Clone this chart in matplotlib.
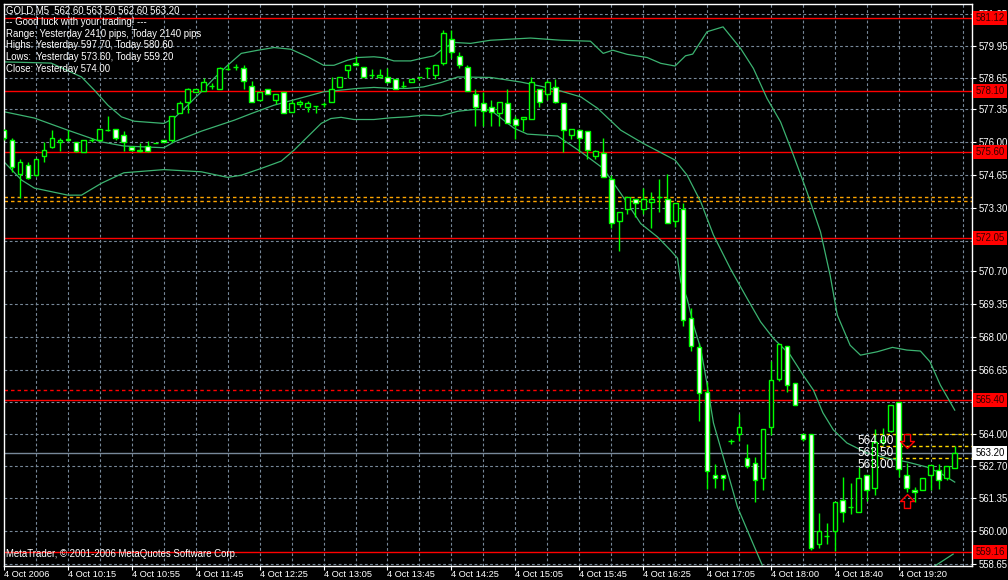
import numpy as np
import matplotlib
matplotlib.use("Agg")
import matplotlib.pyplot as plt
import matplotlib.transforms as mtransforms
from matplotlib.patches import Rectangle
from matplotlib.path import Path

plt.rcParams['font.family'] = ['Liberation Sans', 'DejaVu Sans']

# GOLD M5 candles, bar index 0..119 (left to right)
opens = [576.49, 576.08, 574.67, 575.08, 574.64, 575.44, 575.78, 575.99, 576.14, 575.99,
         575.60, 576.10, 576.07, 576.48, 576.56, 576.29, 575.78, 575.62, 575.85, 575.97,
         576.08, 576.07, 577.18, 577.66, 578.07, 578.10, 578.30, 578.17, 579.00, 579.08,
         579.03, 578.29, 577.73, 578.17, 577.74, 578.07, 577.25, 577.58, 577.45, 577.47,
         577.58, 577.66, 578.27, 578.97, 579.27, 579.07, 578.78, 578.66, 578.66, 578.58,
         578.30, 578.48, 578.66, 579.03, 578.78, 579.27, 580.26, 579.55, 579.07, 577.96,
         577.59, 577.45, 577.18, 577.59, 576.97, 576.97, 576.97, 578.17, 577.97, 578.27,
         577.59, 576.29, 576.49, 576.46, 575.45, 575.56, 574.47, 572.77, 573.27, 573.67,
         573.27, 573.55, 573.75, 573.68, 572.77, 573.27, 568.75, 567.56, 565.74, 562.33,
         562.33, 563.70, 564.00, 563.02, 562.81, 562.17, 564.27, 566.28, 567.62, 566.10,
         564.00, 564.00, 559.49, 559.81, 560.02, 561.27, 561.00, 560.80, 562.33, 561.78,
         563.65, 564.13, 565.32, 562.33, 561.71, 561.68, 562.30, 562.51, 562.17, 562.60]
highs = [576.55, 576.15, 575.30, 575.19, 575.32, 575.99, 576.48, 576.18, 576.48, 576.00,
         576.07, 576.15, 576.56, 577.08, 576.56, 576.45, 575.85, 575.97, 576.05, 575.98,
         576.08, 577.06, 577.69, 578.21, 578.17, 578.62, 578.45, 579.10, 579.22, 579.20,
         579.16, 578.51, 578.07, 578.17, 577.96, 578.07, 577.73, 577.73, 577.69, 577.48,
         577.64, 578.68, 578.66, 579.19, 579.55, 579.07, 579.00, 579.00, 579.03, 578.58,
         578.51, 578.59, 578.67, 579.10, 579.19, 580.60, 580.60, 579.69, 579.19, 578.17,
         578.07, 577.73, 577.66, 578.17, 577.07, 577.04, 578.66, 578.17, 578.55, 578.58,
         577.59, 576.56, 576.56, 576.46, 575.66, 576.15, 574.64, 573.14, 573.75, 573.67,
         574.10, 573.96, 574.47, 574.68, 573.48, 573.48, 569.16, 567.75, 566.15, 562.78,
         562.33, 563.81, 564.80, 563.60, 563.06, 564.22, 567.00, 567.71, 567.62, 566.10,
         564.00, 564.00, 560.73, 560.32, 561.21, 562.24, 562.00, 562.65, 562.33, 564.22,
         564.25, 565.18, 565.32, 562.82, 561.80, 562.19, 562.71, 562.75, 562.69, 563.50]
lows = [576.10, 574.78, 573.69, 574.48, 574.62, 575.17, 575.76, 575.63, 576.06, 575.60,
        575.60, 576.00, 576.05, 576.44, 576.07, 575.63, 575.63, 575.58, 575.60, 575.96,
        575.99, 576.01, 577.18, 577.18, 578.07, 578.10, 578.18, 578.17, 578.95, 578.95,
        578.17, 577.66, 577.69, 577.96, 577.55, 577.18, 577.22, 577.45, 577.25, 577.18,
        577.45, 577.66, 578.27, 578.62, 579.19, 578.66, 578.62, 578.62, 578.45, 578.17,
        578.21, 578.48, 578.55, 578.62, 578.58, 579.16, 579.44, 579.05, 578.10, 576.67,
        576.67, 576.66, 576.66, 576.77, 576.14, 576.46, 576.97, 577.45, 577.73, 577.59,
        575.60, 576.14, 575.60, 575.29, 575.29, 574.55, 572.45, 571.53, 573.06, 572.93,
        573.06, 572.45, 573.14, 572.66, 572.52, 568.44, 567.42, 564.55, 561.75, 561.78,
        561.68, 563.60, 563.70, 562.58, 561.21, 561.68, 563.97, 566.18, 565.73, 565.21,
        563.70, 559.22, 559.29, 559.49, 559.18, 560.39, 560.69, 560.80, 561.23, 561.48,
        563.55, 564.10, 562.24, 561.62, 561.21, 561.68, 561.68, 561.75, 562.10, 562.60]
closes = [576.15, 574.99, 575.17, 574.53, 575.30, 575.66, 576.15, 576.08, 576.07, 575.63,
          576.07, 576.10, 576.56, 576.48, 576.15, 575.99, 575.66, 575.67, 575.63, 575.97,
          576.00, 577.06, 577.59, 578.17, 578.17, 578.48, 578.30, 579.05, 579.00, 579.08,
          578.51, 577.66, 578.07, 577.96, 577.96, 577.18, 577.59, 577.67, 577.59, 577.47,
          577.58, 578.17, 578.66, 579.19, 579.19, 578.66, 578.78, 578.78, 578.48, 578.17,
          578.30, 578.59, 578.66, 579.03, 579.19, 580.47, 579.69, 579.19, 578.10, 577.45,
          577.27, 577.25, 577.66, 576.77, 576.69, 577.04, 578.48, 577.66, 578.48, 577.66,
          576.49, 576.56, 576.15, 575.67, 575.64, 574.55, 572.66, 573.14, 573.75, 573.48,
          573.68, 573.68, 573.75, 572.66, 573.48, 568.68, 567.63, 565.67, 562.48, 562.19,
          562.19, 563.70, 564.29, 562.69, 562.10, 564.22, 566.23, 567.71, 566.00, 565.21,
          563.81, 559.29, 560.02, 559.81, 561.21, 560.80, 561.00, 562.19, 561.68, 563.67,
          563.75, 565.18, 562.54, 561.78, 561.62, 562.19, 562.71, 562.10, 562.69, 563.20]

# Bollinger bands (bar position, price)
upper_x = [0, 5.9, 9.7, 11.3, 13.0, 14.7, 16.3, 20.0, 21.3, 23.0, 24.7, 26.3, 28.0, 29.7,
           31.8, 33.8, 35.9, 38.0, 40.0, 41.3, 43.0, 44.3, 46.3, 47.5, 48.8, 50.9, 52.2,
           53.8, 54.7, 56.3, 58.4, 60.9, 65.9, 69.7, 73.4, 75.0, 76.2, 78.0, 80.5, 82.2,
           84.0, 85.3, 86.2, 88.0, 90.0, 92.2, 93.8, 95.5, 97.2, 98.8, 100.5, 102.2, 103.4,
           104.3, 105.9, 107.2, 109.3, 111.2, 113.0, 114.7, 115.9, 117.2, 119.0]
upper_y = [579.30, 579.25, 578.68, 578.14, 577.52, 577.04, 576.86, 576.77, 576.99, 577.52,
           578.07, 578.63, 579.16, 579.65, 579.78, 579.89, 579.82, 579.51, 579.16, 579.16,
           579.37, 579.48, 579.51, 579.47, 579.34, 579.34, 579.44, 579.55, 579.78, 580.10,
           580.06, 580.19, 580.28, 580.19, 580.15, 579.65, 579.78, 579.61, 579.48, 579.24,
           579.13, 579.55, 579.62, 580.54, 580.74, 579.85, 579.03, 577.80, 576.83, 575.47,
           573.96, 572.31, 570.53, 568.89, 567.65, 567.24, 567.38, 567.56, 567.45, 567.41,
           566.97, 566.01, 564.98]
middle_x = [0, 3.8, 8.0, 12.2, 15.0, 20.0, 21.3, 24.7, 28.8, 31.0, 33.8, 38.0, 40.0, 42.2,
            44.3, 46.3, 48.4, 50.5, 52.5, 54.7, 56.8, 60.9, 64.7, 67.2, 69.7, 72.2, 74.3,
            77.2, 80.0, 84.0, 85.5, 87.2, 88.8, 90.9, 93.0, 94.7, 96.3, 98.4, 100.0, 101.3,
            102.5, 103.8, 105.5, 108.0, 110.5, 113.0, 115.5, 117.2, 119.0]
middle_y = [577.25, 576.99, 576.49, 576.01, 575.84, 575.77, 576.01, 576.45, 576.90, 577.18,
            577.52, 577.89, 578.07, 578.14, 578.21, 578.25, 578.21, 578.21, 578.27, 578.45,
            578.68, 578.66, 578.47, 578.30, 578.10, 577.86, 577.39, 576.49, 575.95, 575.26,
            574.64, 573.55, 572.18, 570.81, 569.58, 568.61, 567.93, 567.25, 566.43, 565.81,
            564.87, 564.17, 563.63, 563.22, 563.01, 562.85, 562.64, 562.39, 562.02]
lower_x = [0, 2.2, 3.8, 8.0, 9.7, 12.2, 15.0, 20.0, 24.7, 28.0, 29.7, 32.2, 34.7, 36.3,
           38.0, 39.7, 40.9, 42.2, 43.8, 46.3, 48.4, 50.5, 52.5, 54.7, 56.8, 58.8, 60.9,
           63.8, 65.5, 69.3, 72.2, 75.0, 77.2, 79.7, 81.8, 83.4, 84.3, 84.7, 85.5, 86.3,
           87.2, 88.0, 88.8, 90.5, 91.8, 93.4, 94.9, 105.0, 116.5, 118.8]
lower_y = [575.19, 574.44, 574.11, 573.82, 573.82, 574.31, 574.74, 574.87, 574.78, 574.55,
           574.64, 574.92, 575.22, 575.67, 576.22, 576.77, 576.97, 577.02, 576.93, 576.93,
           577.00, 577.04, 577.11, 577.08, 577.27, 577.34, 577.32, 576.58, 576.33, 576.25,
           575.60, 574.92, 573.89, 572.65, 572.10, 571.56, 571.23, 570.26, 569.57, 568.48,
           567.52, 566.05, 564.45, 562.51, 561.00, 559.76, 558.61, None, 558.57, 559.06]

red_levels = [581.12, 578.10, 575.60, 572.05, 565.40, 559.16]
red_dashed_level = 565.80
orange_levels = [573.75, 573.58]
yellow_levels = [564.00, 563.50, 563.00]
yellow_labels = ['564.00', '563.50', '563.00']
bid_price = 563.20
arrow_bar = 113
arrow_down_price = 563.71
arrow_up_price = 561.24

y_ticks = [558.65, 560.00, 561.35, 562.70, 564.00, 565.30, 566.65, 568.00, 569.35,
           570.70, 571.95, 573.30, 574.65, 576.00, 577.35, 578.65, 579.95, 581.25]
# these two tick labels sit under the red level boxes in the original
hidden_ticks = [565.30, 571.95]
x_tick_bars = [0, 8, 16, 24, 32, 40, 48, 56, 64, 72, 80, 88, 96, 104, 112]
x_tick_labels = ['4 Oct 2006', '4 Oct 10:15', '4 Oct 10:55', '4 Oct 11:45', '4 Oct 12:25',
                 '4 Oct 13:05', '4 Oct 13:45', '4 Oct 14:25', '4 Oct 15:05', '4 Oct 15:45',
                 '4 Oct 16:25', '4 Oct 17:05', '4 Oct 18:00', '4 Oct 18:40', '4 Oct 19:20']

info_lines = ['GOLD,M5  562.60 563.50 562.60 563.20',
              '-- Good luck with your trading! ---',
              'Range: Yesterday 2410 pips, Today 2140 pips',
              'Highs: Yesterday 597.70, Today 580.60',
              'Lows:  Yesterday 573.60, Today 559.20',
              'Close: Yesterday 574.00']

FS = 6.9
LIME = '#00FF00'
GRID = '#778899'
BAND = '#3CB371'
DASH = (0, (2.5, 2.2))

# block arrow marker (pointing down), flipped for the up arrow
down_arrow = Path([(-0.22, 0.5), (0.22, 0.5), (0.22, 0.0), (0.5, 0.0), (0.0, -0.5),
                   (-0.5, 0.0), (-0.22, 0.0), (-0.22, 0.5)], closed=True)
up_arrow = Path([(x, -y) for x, y in down_arrow.vertices], closed=True)

fig = plt.figure(figsize=(10.08, 5.80), dpi=100, facecolor='black')
ax = fig.add_axes([4 / 1008, 14 / 580, 968 / 1008, 562 / 580])
ax.set_facecolor('black')
ax.set_xlim(0.16, 121.16)
ax.set_ylim(558.57, 581.68)

# grid
for k in range(4, 121, 4):
    ax.axvline(k, color=GRID, lw=0.8, ls=DASH, zorder=0)
for v in y_ticks:
    ax.axhline(v, color=GRID, lw=0.8, ls=DASH, zorder=0)

# level lines
for v in red_levels:
    ax.axhline(v, color='red', lw=1, zorder=1)
ax.axhline(red_dashed_level, color='red', lw=1, ls=DASH, zorder=1)
for v in orange_levels:
    ax.axhline(v, color='orange', lw=1, ls=DASH, zorder=1)
ax.hlines(yellow_levels, 108.8, 121.16, color='gold', lw=1, ls=DASH, zorder=1)
ax.axhline(bid_price, color=GRID, lw=1, zorder=1)

# bands
ax.plot(upper_x, upper_y, color=BAND, lw=0.9, zorder=2)
ax.plot(middle_x, middle_y, color=BAND, lw=0.9, zorder=2)
ax.plot(lower_x, [np.nan if v is None else v for v in lower_y], color=BAND, lw=0.9, zorder=2)

# candles
for i, (o, h, l, c) in enumerate(zip(opens, highs, lows, closes)):
    ax.vlines(i, l, h, color=LIME, lw=1, zorder=3)
    if abs(c - o) < 0.03:
        ax.hlines(o, i - 0.32, i + 0.32, color=LIME, lw=1, zorder=4)
    else:
        face = 'white' if c < o else 'black'
        ax.add_patch(Rectangle((i - 0.3, min(o, c)), 0.6, abs(c - o),
                               facecolor=face, edgecolor=LIME, lw=1, zorder=4))

# price labels of the yellow lines
for v, s in zip(yellow_levels, yellow_labels):
    ax.text(111.4, v - 0.04, s, color='white', fontsize=FS + 1.6, ha='right', va='top', zorder=5)

ax.plot([arrow_bar], [arrow_down_price], marker=down_arrow, markersize=10, mfc='none',
        mec='red', mew=1, zorder=6)
ax.plot([arrow_bar], [arrow_up_price], marker=up_arrow, markersize=10, mfc='none',
        mec='red', mew=1, zorder=6)

# axes
for sp in ax.spines.values():
    sp.set_color('white')
    sp.set_linewidth(1)
ax.yaxis.tick_right()
ax.set_yticks(y_ticks)
ax.set_yticklabels(['' if v in hidden_ticks else '%.2f' % v for v in y_ticks])
ax.set_xticks(x_tick_bars)
ax.set_xticklabels(x_tick_labels)
ax.tick_params(axis='y', colors='white', labelsize=FS, length=3, pad=2)
ax.tick_params(axis='x', colors='white', labelsize=FS - 0.2, length=3, pad=0)
for lab in ax.get_xticklabels():
    lab.set_ha('left')

trans = mtransforms.blended_transform_factory(ax.transAxes, ax.transData)
for v in red_levels:
    ax.text(1.0035, v, '%.2f' % v, transform=trans, color='#300000', fontsize=FS,
            ha='left', va='center', zorder=10, clip_on=False,
            bbox=dict(facecolor='red', edgecolor='none', boxstyle='square,pad=0.2'))
ax.text(1.0035, bid_price, '%.2f' % bid_price, transform=trans, color='black', fontsize=FS,
        ha='left', va='center', zorder=10, clip_on=False,
        bbox=dict(facecolor='white', edgecolor='none', boxstyle='square,pad=0.2'))

# info text
for k, s in enumerate(info_lines):
    fig.text(6 / 1008, 1 - (10.7 + 11.6 * k) / 580, s, color='white', fontsize=FS,
             ha='left', va='center')
fig.text(6 / 1008, 1 - 554 / 580, 'MetaTrader, \u00a9 2001-2006 MetaQuotes Software Corp.',
         color='white', fontsize=FS, ha='left', va='center')

fig.savefig('out.png', dpi=100, facecolor='black')
